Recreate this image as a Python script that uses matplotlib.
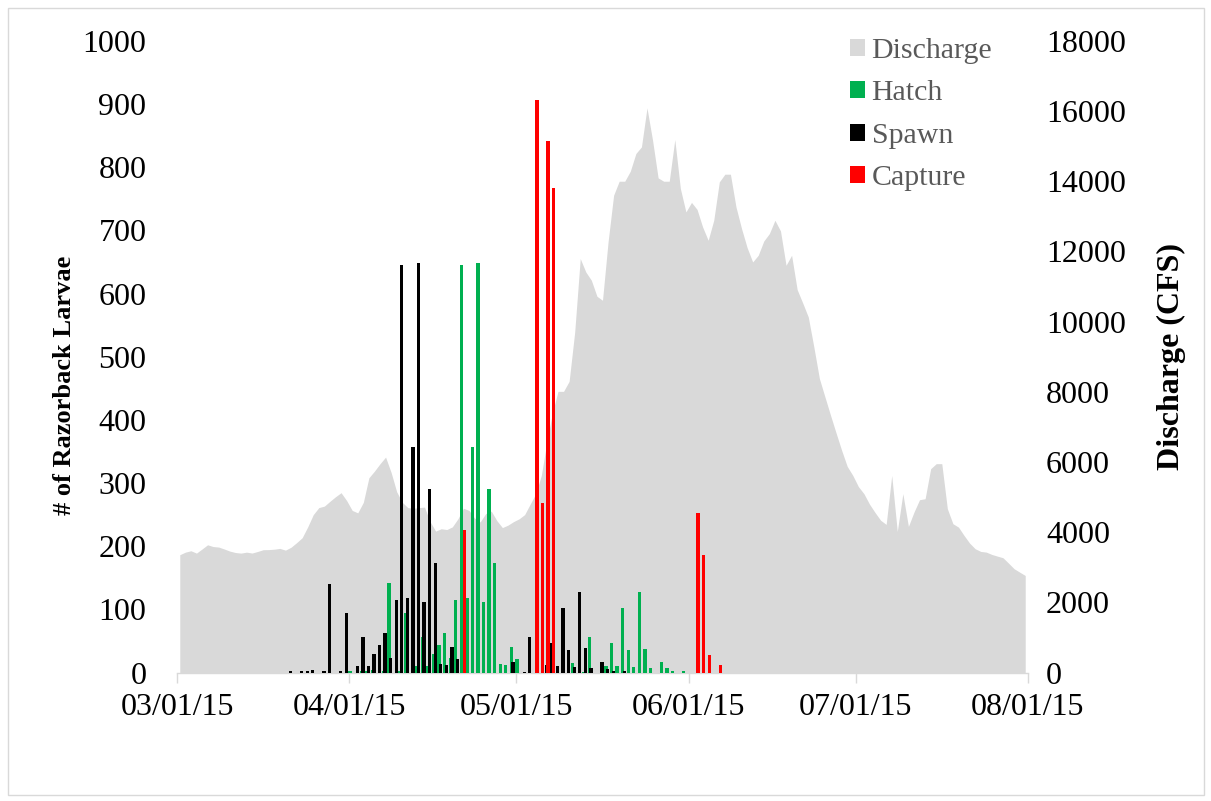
import numpy as np
import pandas as pd
import matplotlib
matplotlib.use("Agg")
import matplotlib.pyplot as plt
import matplotlib.dates as mdates
from matplotlib.patches import Patch, Rectangle

# ---------------- data ----------------
# Daily river discharge (CFS), 03/01/2015 .. 07/31/2015
discharge_start = "2015-03-01"
discharge_cfs = [
    3357, 3430, 3470, 3403, 3520, 3640, 3590, 3575, 3520, 3460,
    3420, 3403, 3430, 3405, 3450, 3500, 3503, 3515, 3537, 3488,
    3570, 3700, 3841, 4150, 4500, 4700, 4743, 4880, 5010, 5125,
    4900, 4620, 4550, 4850, 5550, 5740, 5950, 6140, 5700, 5150,
    4850, 4700, 4680, 4700, 4714, 4300, 4030, 4098, 4075, 4150,
    4380, 4680, 4620, 4400, 4290, 4530, 4600, 4330, 4130, 4200,
    4300, 4380, 4500, 4800, 5097, 5618, 6568, 7400, 8014, 8014,
    8300, 9700, 11799, 11416, 11180, 10724, 10610, 12272, 13604, 14003,
    14003, 14289, 14793, 14981, 16094, 15172, 14098, 14003, 14003, 15192,
    13795, 13128, 13400, 13200, 12700, 12320, 12890, 13983, 14203, 14203,
    13270, 12654, 12112, 11702, 11893, 12300, 12511, 12890, 12587, 11607,
    11893, 10914, 10532, 10133, 9278, 8376, 7852, 7330, 6825, 6331,
    5875, 5618, 5300, 5097, 4800, 4560, 4340, 4221, 5618, 4021,
    5097, 4164, 4572, 4925, 4953, 5809, 5952, 5952, 4669, 4241,
    4144, 3907, 3688, 3528, 3451, 3431, 3365, 3317, 3271, 3117,
    2958, 2861, 2766,
]

spawn_dates = [
    "2015-03-21", "2015-03-23", "2015-03-24", "2015-03-25", "2015-03-27",
    "2015-03-28", "2015-03-30", "2015-03-31", "2015-04-02", "2015-04-03",
    "2015-04-04", "2015-04-05", "2015-04-06", "2015-04-07", "2015-04-08",
    "2015-04-09", "2015-04-10", "2015-04-11", "2015-04-12", "2015-04-13",
    "2015-04-14", "2015-04-15", "2015-04-16", "2015-04-17", "2015-04-18",
    "2015-04-19", "2015-04-20", "2015-04-30", "2015-05-02", "2015-05-03",
    "2015-05-06", "2015-05-07", "2015-05-08", "2015-05-09", "2015-05-10",
    "2015-05-11", "2015-05-12", "2015-05-13", "2015-05-14", "2015-05-16",
    "2015-05-17", "2015-05-18", "2015-05-20",
]
spawn_counts = [
    2, 2, 2, 4, 2,
    140, 3, 94, 11, 56,
    10, 30, 44, 63, 23,
    115, 645, 118, 357, 648,
    112, 291, 174, 14, 12,
    40, 22, 16, 1, 57,
    12, 47, 11, 102, 35,
    8, 128, 39, 7, 17,
    6, 3, 2,
]

hatch_dates = [
    "2015-04-01", "2015-04-03", "2015-04-04", "2015-04-05", "2015-04-07",
    "2015-04-08", "2015-04-10", "2015-04-11", "2015-04-13", "2015-04-14",
    "2015-04-15", "2015-04-16", "2015-04-17", "2015-04-18", "2015-04-19",
    "2015-04-20", "2015-04-21", "2015-04-22", "2015-04-23", "2015-04-24",
    "2015-04-25", "2015-04-26", "2015-04-27", "2015-04-28", "2015-04-29",
    "2015-04-30", "2015-05-01", "2015-05-11", "2015-05-13", "2015-05-14",
    "2015-05-17", "2015-05-18", "2015-05-19", "2015-05-20", "2015-05-21",
    "2015-05-22", "2015-05-23", "2015-05-24", "2015-05-25", "2015-05-27",
    "2015-05-28", "2015-05-29", "2015-05-31",
]
hatch_counts = [
    2, 2, 2, 4, 2,
    141, 3, 94, 11, 56,
    10, 30, 44, 63, 23,
    115, 645, 118, 357, 648,
    112, 291, 174, 14, 12,
    40, 22, 15, 1, 57,
    11, 46, 11, 102, 35,
    8, 127, 38, 7, 16,
    7, 3, 2,
]

capture_dates = [
    "2015-04-21", "2015-05-04", "2015-05-05", "2015-05-06", "2015-05-07",
    "2015-06-02", "2015-06-03", "2015-06-04", "2015-06-06",
]
capture_counts = [225, 906, 268, 841, 767, 253, 186, 28, 12]

x_tick_labels = ["03/01/15", "04/01/15", "05/01/15", "06/01/15", "07/01/15", "08/01/15"]

# ---------------- styling ----------------
GREEN = "#00B050"
BLACK = "#000000"
RED = "#FF0000"
AREA = "#D9D9D9"
LEG_TXT = "#595959"
SERIF = ["Liberation Serif", "DejaVu Serif"]

plt.rcParams["font.family"] = SERIF

W, H = 1211, 801
fig = plt.figure(figsize=(W / 100, H / 100), dpi=100)
fig.patch.set_facecolor("white")

# outer chart frame
fig.add_artist(Rectangle((8 / W, 6 / H), 1196 / W, 787 / H, transform=fig.transFigure,
                         fill=False, edgecolor="#D9D9D9", linewidth=1.0))

L, R, T, B = 177, 1028, 41, 672.5
ax = fig.add_axes([L / W, 1 - B / H, (R - L) / W, (B - T) / H])
ax2 = ax.twinx()

# discharge as a filled area on the secondary axis (vertices at mid-day)
d_dates = pd.date_range(discharge_start, periods=len(discharge_cfs), freq="D")
d_x = mdates.date2num(d_dates) + 0.5
ax2.fill_between(d_x, 0, discharge_cfs, color=AREA, linewidth=0, zorder=1)

# clustered daily columns
bar_w = 0.6
series = [
    (hatch_dates, hatch_counts, GREEN, 0.12),
    (spawn_dates, spawn_counts, BLACK, 0.42),
    (capture_dates, capture_counts, RED, 0.70),
]
for dates, counts, color, off in series:
    xs = mdates.date2num(pd.to_datetime(dates)) + off
    ax.bar(xs, counts, width=bar_w, color=color, linewidth=0, zorder=3)

# primary axis sits on top of the discharge area
ax.set_zorder(ax2.get_zorder() + 1)
ax.patch.set_visible(False)

x0 = mdates.date2num(pd.Timestamp("2015-03-01"))
x1 = mdates.date2num(pd.Timestamp("2015-08-01"))
ax.set_xlim(x0, x1)
ax2.set_xlim(x0, x1)
ax.set_ylim(0, 1000)
ax2.set_ylim(0, 18000)

tick_pos = mdates.date2num(pd.to_datetime(["2015-03-01", "2015-04-01", "2015-05-01",
                                           "2015-06-01", "2015-07-01", "2015-08-01"]))
ax.set_xticks(tick_pos)
ax.set_xticklabels(x_tick_labels)
ax.set_yticks(np.arange(0, 1001, 100))
ax2.set_yticks(np.arange(0, 18001, 2000))

for a in (ax, ax2):
    for s in ("top", "left", "right"):
        a.spines[s].set_visible(False)
ax2.spines["bottom"].set_visible(False)
ax.spines["bottom"].set_color(AREA)
ax.spines["bottom"].set_linewidth(1.0)

TICK_FS = 23
ax.tick_params(axis="x", direction="out", length=7, width=1.0, color=AREA,
               labelsize=TICK_FS, pad=8, labelcolor="black")
ax.tick_params(axis="y", length=0, labelsize=TICK_FS, pad=22, labelcolor="black")
ax2.tick_params(axis="y", length=0, labelsize=TICK_FS, pad=13, labelcolor="black")

ax.set_ylabel("# of Razorback Larvae", fontsize=19, fontweight="bold")
ax.yaxis.set_label_coords((76 - L) / (R - L), (B - 385) / (B - T))
ax2.set_ylabel("Discharge (CFS)", fontsize=23, fontweight="bold", rotation=90)
ax2.yaxis.set_label_coords((1157 - L) / (R - L), (B - 357) / (B - T))

handles = [
    Patch(facecolor=AREA, edgecolor="none", label="Discharge"),
    Patch(facecolor=GREEN, edgecolor="none", label="Hatch"),
    Patch(facecolor=BLACK, edgecolor="none", label="Spawn"),
    Patch(facecolor=RED, edgecolor="none", label="Capture"),
]
leg = fig.legend(handles=handles, loc="upper left",
                 bbox_to_anchor=(850 / W, 1 - 38 / H), frameon=False,
                 fontsize=21.5, handlelength=0.5, handleheight=0.5,
                 handletextpad=0.22, labelspacing=0.55, borderpad=0,
                 borderaxespad=0)
for t in leg.get_texts():
    t.set_color(LEG_TXT)

fig.savefig("out.png", dpi=100, facecolor="white")
